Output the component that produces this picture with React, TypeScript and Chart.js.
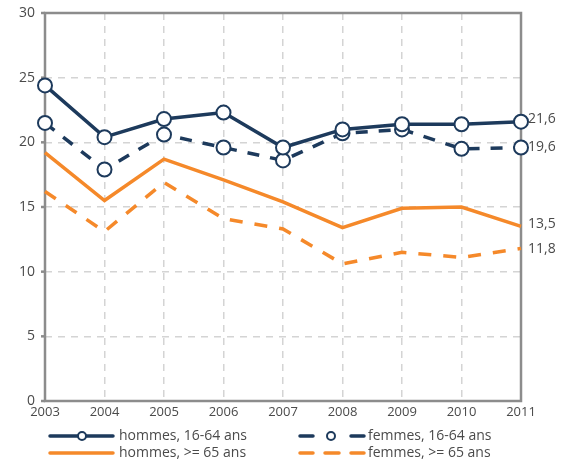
import React, { useEffect, useRef } from "react";
import { Chart, registerables } from "chart.js";
Chart.register(...registerables);

const years = ["2003", "2004", "2005", "2006", "2007", "2008", "2009", "2010", "2011"];
const hommes1664 = [24.4, 20.4, 21.8, 22.3, 19.6, 21.0, 21.4, 21.4, 21.6];
const femmes1664 = [21.5, 17.9, 20.6, 19.6, 18.6, 20.7, 21.0, 19.5, 19.6];
const hommes65 = [19.2, 15.5, 18.7, 17.1, 15.4, 13.4, 14.9, 15.0, 13.5];
const femmes65 = [16.2, 13.1, 16.9, 14.1, 13.3, 10.6, 11.5, 11.1, 11.8];
const endLabels = ["21,6", "19,6", "13,5", "11,8"];
const seriesNames = ["hommes, 16-64 ans", "femmes, 16-64 ans", "hommes, >= 65 ans", "femmes, >= 65 ans"];

const NAVY = "#1d3a5c";
const ORANGE = "#f5892a";
const FONT = "'Open Sans', sans-serif";

export default function App() {
  const ref = useRef<HTMLCanvasElement>(null);
  useEffect(() => {
    const framePlugin = {
      id: "frame",
      beforeDatasetsDraw(chart: any) {
        const { ctx, chartArea: a } = chart;
        ctx.save();
        ctx.strokeStyle = "#8c8c8c";
        ctx.lineWidth = 2.5;
        ctx.strokeRect(a.left, a.top, a.right - a.left, a.bottom - a.top);
        const ys = chart.scales.y;
        ys.ticks.forEach((t: any) => {
          const y = ys.getPixelForValue(t.value);
          ctx.beginPath();
          ctx.moveTo(a.left - 4, y);
          ctx.lineTo(a.left, y);
          ctx.stroke();
        });
        ctx.restore();
      },
      afterDraw(chart: any) {
        const { ctx } = chart;
        ctx.save();
        ctx.font = `14px ${FONT}`;
        ctx.fillStyle = "#4a4a4a";
        ctx.textBaseline = "middle";
        ctx.textAlign = "left";
        const offs = [-3, 0, -2, 1];
        chart.data.datasets.forEach((ds: any, i: number) => {
          const meta = chart.getDatasetMeta(i);
          const p = meta.data[meta.data.length - 1];
          ctx.fillText(endLabels[i], p.x + 7, p.y + offs[i]);
        });
        const rows = [436, 453];
        const cols = [{ x0: 50, x1: 113, tx: 119 }, { x0: 300, x1: 364, tx: 368 }];
        const items = [
          { c: NAVY, col: 0, row: 0, dash: false, marker: true, mx: 82 },
          { c: NAVY, col: 1, row: 0, dash: true, marker: true, mx: 331 },
          { c: ORANGE, col: 0, row: 1, dash: false, marker: false, mx: 0 },
          { c: ORANGE, col: 1, row: 1, dash: true, marker: false, mx: 0 },
        ];
        items.forEach((it, i) => {
          const y = rows[it.row];
          const col = cols[it.col];
          ctx.strokeStyle = it.c;
          ctx.lineWidth = 3.5;
          ctx.lineCap = "round";
          if (it.dash) {
            const segs = it.marker
              ? [[col.x0, col.x0 + 13], [col.x1 - 13, col.x1]]
              : [[col.x0, col.x0 + 13], [col.x0 + 25, col.x0 + 39], [col.x1 - 13, col.x1]];
            segs.forEach(([s, e]) => {
              ctx.beginPath();
              ctx.moveTo(s, y);
              ctx.lineTo(e, y);
              ctx.stroke();
            });
          } else {
            ctx.beginPath();
            ctx.moveTo(col.x0, y);
            ctx.lineTo(col.x1, y);
            ctx.stroke();
          }
          if (it.marker) {
            ctx.beginPath();
            ctx.arc(it.mx, y, 4, 0, Math.PI * 2);
            ctx.fillStyle = "#fff";
            ctx.fill();
            ctx.lineWidth = 2;
            ctx.stroke();
          }
          ctx.fillStyle = "#4a4a4a";
          ctx.font = `14px ${FONT}`;
          ctx.fillText(seriesNames[i], col.tx, y);
        });
        ctx.restore();
      },
    };

    const chart = new Chart(ref.current!, {
      type: "line",
      data: {
        labels: years,
        datasets: [
          {
            label: seriesNames[0], data: hommes1664, borderColor: NAVY, borderWidth: 3.5,
            pointRadius: 7, pointBackgroundColor: "#fff", pointBorderColor: NAVY, pointBorderWidth: 2, order: 0,
          },
          {
            label: seriesNames[1], data: femmes1664, borderColor: NAVY, borderWidth: 3.5, borderDash: [12, 11],
            pointRadius: 7, pointBackgroundColor: "#fff", pointBorderColor: NAVY, pointBorderWidth: 2, order: 1,
          },
          {
            label: seriesNames[2], data: hommes65, borderColor: ORANGE, borderWidth: 3.5, pointRadius: 0, order: 2,
          },
          {
            label: seriesNames[3], data: femmes65, borderColor: ORANGE, borderWidth: 3.5, borderDash: [13, 12], pointRadius: 0, order: 3,
          },
        ],
      },
      options: {
        responsive: false,
        animation: false,
        layout: { padding: { top: 13, right: 52, bottom: 0, left: 0 } },
        plugins: { legend: { display: false }, tooltip: { enabled: false } },
        scales: {
          x: {
            offset: false,
            grid: { color: "#d4d4d4", lineWidth: 1.5, drawTicks: false },
            border: { display: false, dash: [7, 6] },
            ticks: { color: "#4a4a4a", font: { family: FONT, size: 13 }, padding: 3, maxRotation: 0, autoSkip: false },
            afterFit(scale: any) { scale.height = 62; scale.paddingLeft = 0; scale.paddingRight = 0; },
          },
          y: {
            min: 0, max: 30,
            grid: {
              color: (c: any) => (c.tick && (c.tick.value === 0 || c.tick.value === 30) ? "rgba(0,0,0,0)" : "#d4d4d4"),
              lineWidth: 1.5, drawTicks: false,
            },
            border: { display: false, dash: [7, 6] },
            ticks: { stepSize: 5, color: "#4a4a4a", font: { family: FONT, size: 14 }, padding: 10 },
            afterFit(scale: any) { scale.width = 45; scale.paddingTop = 0; scale.paddingBottom = 0; },
          },
        },
      },
      plugins: [framePlugin],
    });
    return () => chart.destroy();
  }, []);
  return (
    <div style={{ position: "fixed", left: 0, top: 0, width: 573, height: 463, background: "#fff" }}>
      <canvas ref={ref} width={573} height={463} style={{ width: 573, height: 463 }} />
    </div>
  );
}
